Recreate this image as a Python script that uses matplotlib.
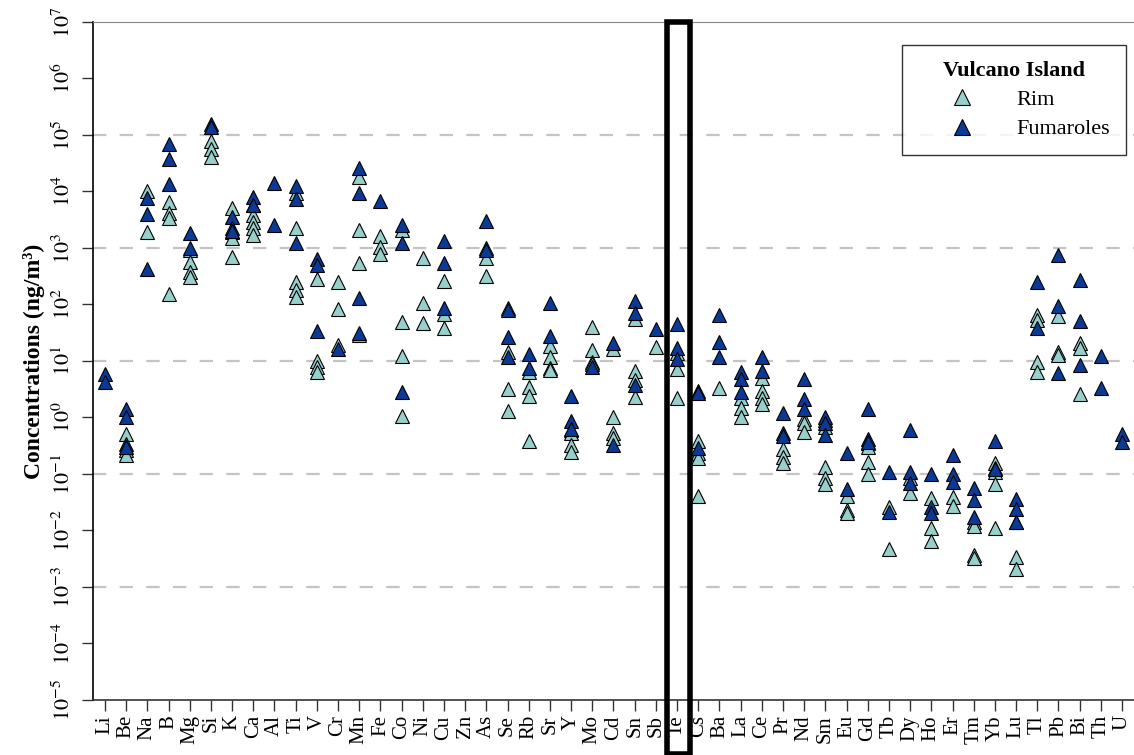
import matplotlib
matplotlib.use("Agg")
import matplotlib.pyplot as plt
from matplotlib.patches import Rectangle
from matplotlib.lines import Line2D
import matplotlib.transforms as mtransforms

# =====================================
# DATA (ng/m3)
# =====================================

elements = ["Li", "Be", "Na", "B", "Mg", "Si", "K", "Ca", "Al", "Ti", "V", "Cr",
            "Mn", "Fe", "Co", "Ni", "Cu", "Zn", "As", "Se", "Rb", "Sr", "Y", "Mo",
            "Cd", "Sn", "Sb", "Te", "Cs", "Ba", "La", "Ce", "Pr", "Nd", "Sm", "Eu",
            "Gd", "Tb", "Dy", "Ho", "Er", "Tm", "Yb", "Lu", "Tl", "Pb", "Bi", "Th", "U"]

rim_values = [
    [], [0.5, 0.27, 0.22], [10200, 1900], [6500, 4100, 3400, 155],
    [920, 565, 380, 310], [77000, 56000, 41000], [5100, 1900, 1500, 680],
    [5750, 3800, 2880, 2250, 1700], [], [9400, 2250, 250, 180, 135],
    [283, 10, 7.8, 6.4], [250, 84, 19], [18000, 2100, 540, 29],
    [1620, 1040, 780], [2100, 49, 12.3, 1.07], [665, 107, 47], [260, 68, 38],
    [], [1000, 665, 315], [87, 14.4, 3.2, 1.3], [6.4, 3.5, 2.4, 0.38],
    [18.4, 11.8, 7.6, 6.9], [0.6, 0.53, 0.33, 0.245], [40, 15.7, 9.6, 8.9],
    [16.3, 1.02, 0.53, 0.44], [55, 6.7, 4.6, 2.3], [17.8], [13.8, 7.2, 2.2],
    [0.38, 0.23, 0.19, 0.041], [3.3], [2.2, 1.47, 1.02], [5.0, 2.9, 2.2, 1.74],
    [0.28, 0.2, 0.155], [0.93, 0.79, 0.55], [0.91, 0.68, 0.13, 0.085, 0.066],
    [0.041, 0.023, 0.020], [0.35, 0.30, 0.16, 0.10], [0.026, 0.0047],
    [0.085, 0.046], [0.038, 0.011, 0.0065], [0.039, 0.027],
    [0.014, 0.012, 0.0037, 0.0032], [0.155, 0.128, 0.11, 0.066, 0.011],
    [0.014, 0.0034, 0.0021], [65, 53, 9.5, 6.4], [63, 14.4, 12.9],
    [21, 17, 2.6], [], [],
]

fum_values = [
    [5.9, 4.3], [1.4, 1.0, 0.34, 0.3], [7700, 4000, 425], [69000, 38000, 13500],
    [1850, 1000], [157000, 138000], [3550, 2250, 2000], [7900, 5800],
    [14000, 2550], [12500, 7400, 1230], [640, 505, 34], [16.3],
    [26000, 9400, 130, 31], [6800], [2550, 1230, 2.8], [], [1330, 540, 87],
    [], [3000, 920], [80, 26, 11.8], [13, 7.6], [107, 28], [2.4, 0.87, 0.62],
    [7.8], [21, 0.32], [115, 71, 3.8], [37], [45, 17, 10.8], [2.9, 2.7, 0.29],
    [65, 22, 11.8], [6.4, 4.8, 2.8], [11.8, 6.6], [1.2, 0.53, 0.47],
    [4.8, 2.1, 1.4], [1.02, 0.8, 0.49], [0.23, 0.054], [1.4, 0.42, 0.36],
    [0.11, 0.021], [0.6, 0.11, 0.069], [0.1, 0.026, 0.020], [0.22, 0.1, 0.072],
    [0.056, 0.035, 0.017], [0.38, 0.12], [0.036, 0.024, 0.014], [250, 38],
    [750, 94, 6.2], [270, 51, 8.5], [12.3, 3.3], [0.51, 0.36],
]

highlight = "Te"
grid_levels = [1e5, 1e3, 1e1, 1e-1, 1e-3]
y_exponents = list(range(-5, 8))

rim_color = "#97CFCB"
fum_color = "#0B3A96"

# =====================================
# PLOT
# =====================================

plt.rcParams["font.family"] = ["Liberation Serif", "DejaVu Serif"]
plt.rcParams["mathtext.fontset"] = "stix"

fig = plt.figure(figsize=(11.34, 7.55), dpi=100)
ax = fig.add_axes([0.082, 0.073, 0.918, 0.898])

for level in grid_levels:
    ax.axhline(level, color="#c4c4c4", lw=1.6, dashes=(6, 6), zorder=0)


def scatter_series(values, color):
    xs, ys = [], []
    for i, vals in enumerate(values):
        for v in vals:
            xs.append(i)
            ys.append(v)
    ax.plot(xs, ys, linestyle="none", marker="^", markersize=9.5,
            markerfacecolor=color, markeredgecolor="black",
            markeredgewidth=0.8, zorder=3)


scatter_series(rim_values, rim_color)
scatter_series(fum_values, fum_color)

ax.set_yscale("log")
ax.set_ylim(1e-5, 1e7)
ax.set_xlim(-0.565, len(elements) - 1 + 0.565)

ax.set_yticks([10.0 ** e for e in y_exponents])
ax.set_yticklabels([r"$10^{%d}$" % e for e in y_exponents],
                   rotation=90, va="center", fontsize=16)
ax.minorticks_off()
ax.set_xticks(range(len(elements)))
ax.set_xticklabels(elements, rotation=90, fontsize=15)

ax.tick_params(axis="both", direction="out", length=8, width=1, color="#333333")
ax.tick_params(axis="y", pad=5)
ax.tick_params(axis="x", pad=3)

ax.set_ylabel("Concentrations (ng/m³)", fontsize=17, fontweight="bold", labelpad=5)

ax.spines["right"].set_visible(False)
ax.spines["top"].set_color("#888888")
ax.spines["left"].set_linewidth(1.2)
ax.spines["bottom"].set_linewidth(1.2)
ax.spines["bottom"].set_color("#333333")

# box round the highlighted element
trans = mtransforms.blended_transform_factory(ax.transData, ax.transAxes)
ti = elements.index(highlight)
box = Rectangle((ti - 0.47, -0.08), 1.06, 1.08, transform=trans,
                fill=False, edgecolor="black", lw=4, clip_on=False, zorder=5)
ax.add_patch(box)

handles = [
    Line2D([], [], linestyle="none", marker="^", markersize=11,
           markerfacecolor=rim_color, markeredgecolor="black", markeredgewidth=0.8),
    Line2D([], [], linestyle="none", marker="^", markersize=11,
           markerfacecolor=fum_color, markeredgecolor="black", markeredgewidth=0.8),
]
leg = ax.legend(handles, ["Rim", "Fumaroles"], title="Vulcano Island",
                loc="upper right", bbox_to_anchor=(0.992, 0.966),
                borderaxespad=0, fontsize=16, title_fontsize=16, frameon=True,
                fancybox=False, edgecolor="black", handletextpad=0.45,
                borderpad=0.7, labelspacing=0.4, handlelength=4.0)
leg.get_title().set_fontweight("bold")
leg.get_frame().set_linewidth(1.0)

plt.savefig("out.png", dpi=100)
